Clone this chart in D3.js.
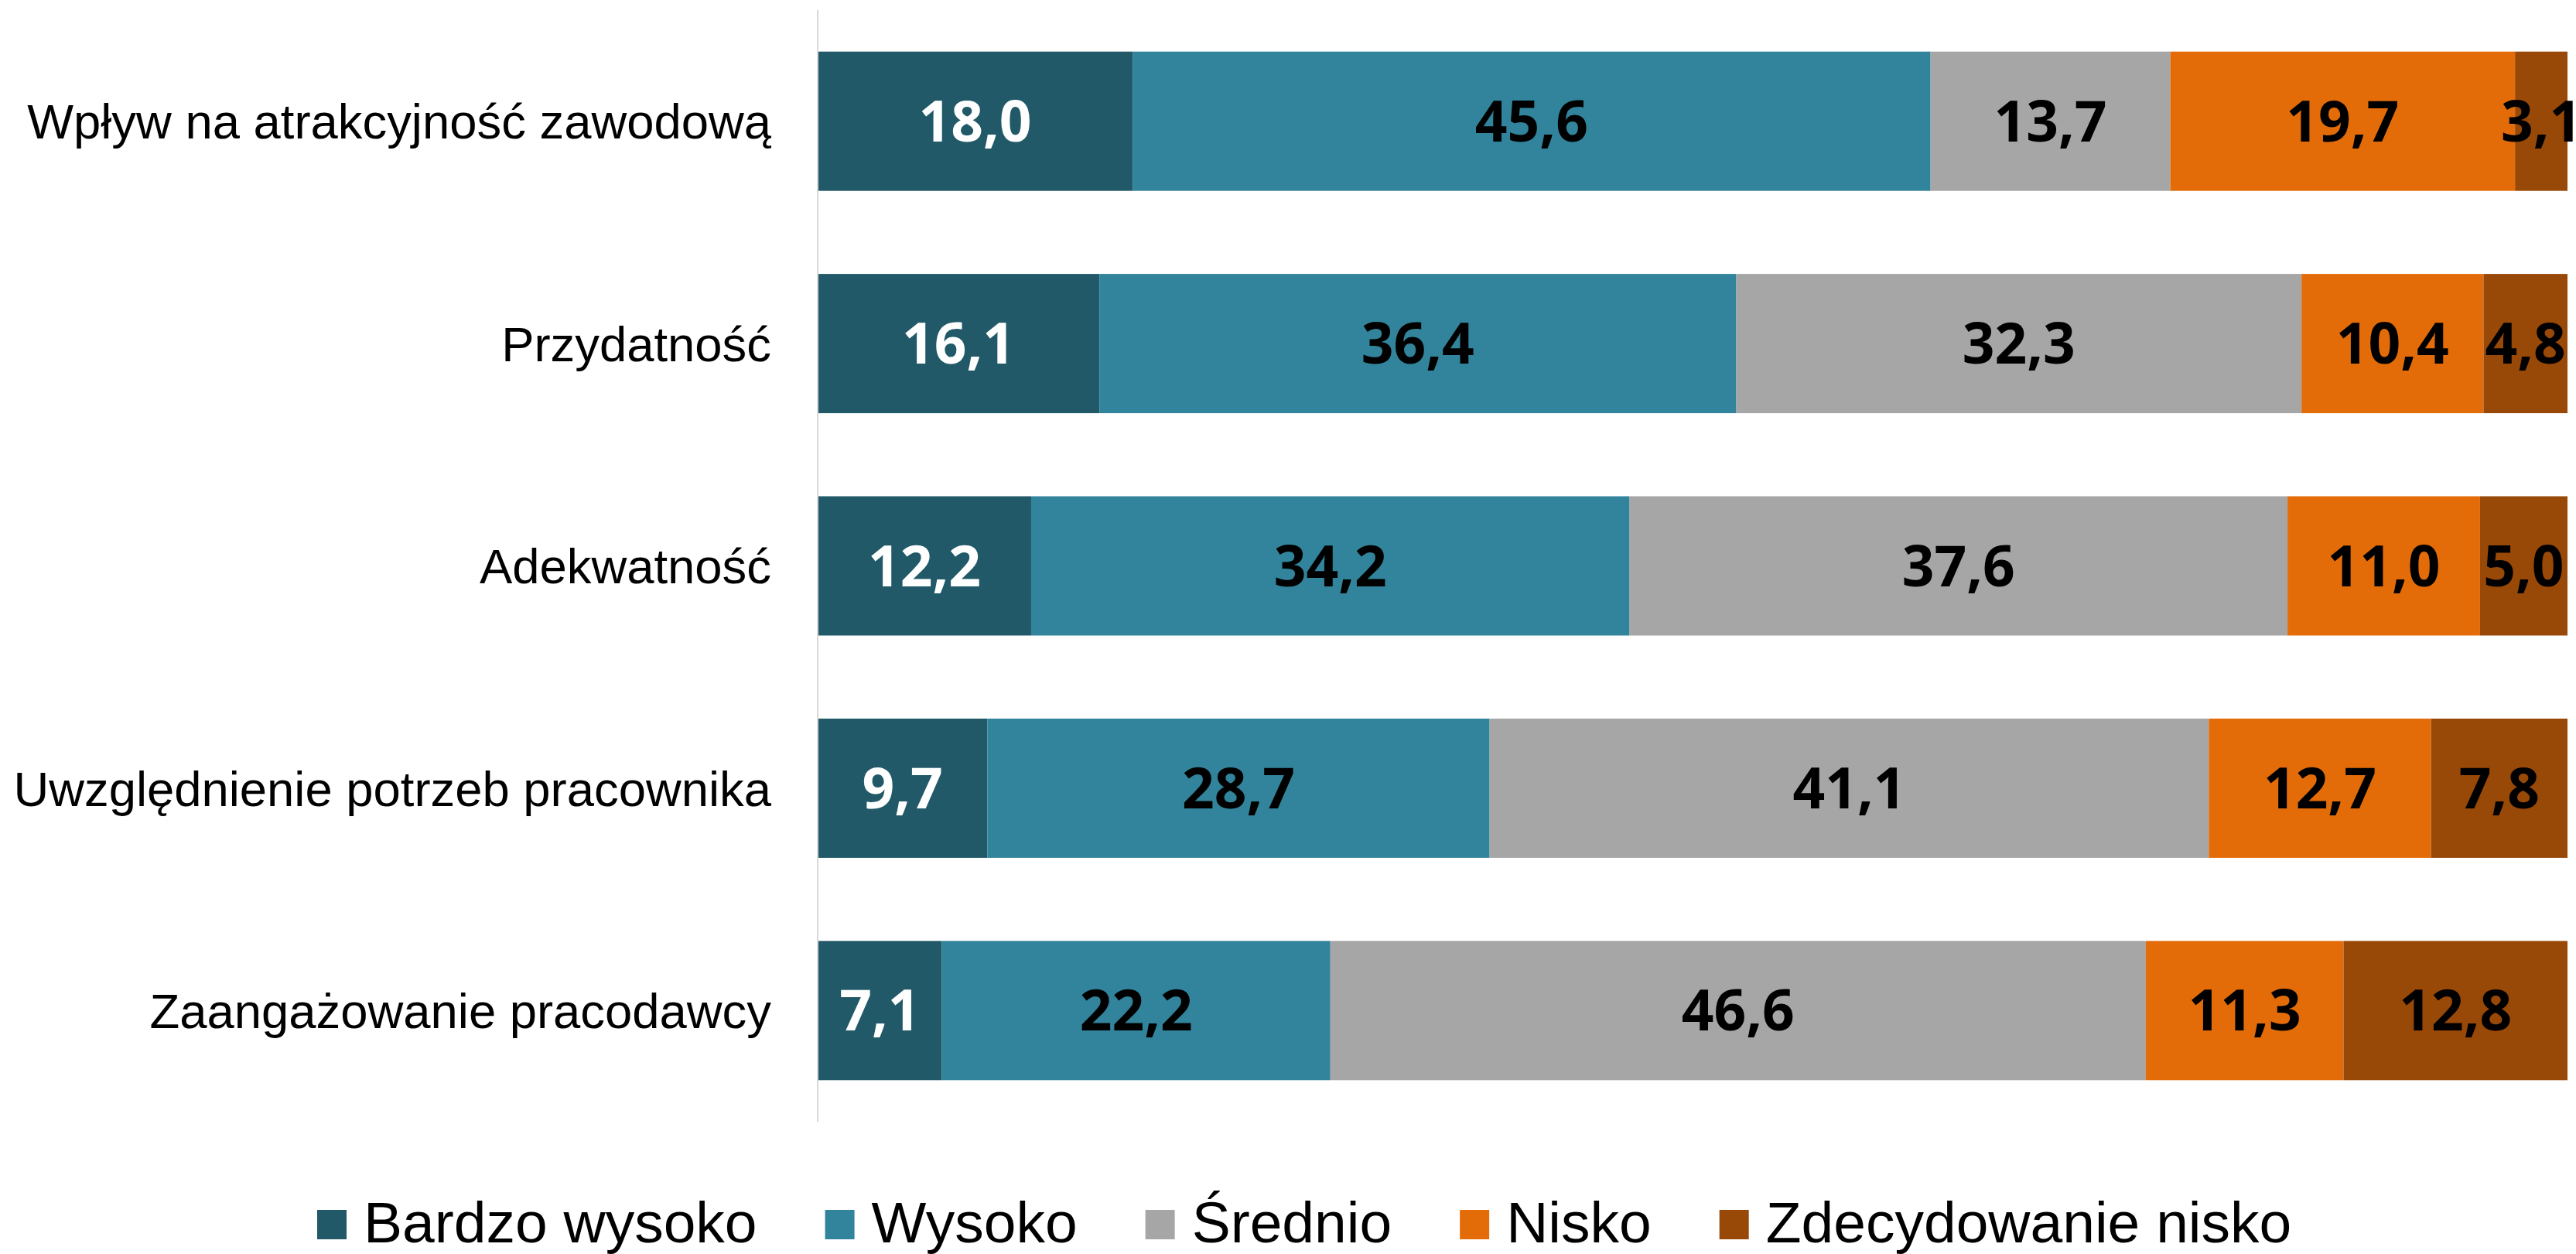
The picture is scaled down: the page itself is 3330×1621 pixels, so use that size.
<!DOCTYPE html>
<html>
<head>
<meta charset="utf-8">
<script src="https://cdn.jsdelivr.net/npm/d3@7/dist/d3.min.js"></script>
<style>
  html, body { margin: 0; padding: 0; background: #ffffff; }
  svg { display: block; }
</style>
</head>
<body>
<svg id="chart" width="3330" height="1621"></svg>
<script>
const categories = [
  "Wpływ na atrakcyjność zawodową",
  "Przydatność",
  "Adekwatność",
  "Uwzględnienie potrzeb pracownika",
  "Zaangażowanie pracodawcy"
];
const seriesNames = ["Bardzo wysoko", "Wysoko", "Średnio", "Nisko", "Zdecydowanie nisko"];
const bardzoWysoko = [18.0, 16.1, 12.2, 9.7, 7.1];
const wysoko = [45.6, 36.4, 34.2, 28.7, 22.2];
const srednio = [13.7, 32.3, 37.6, 41.1, 46.6];
const nisko = [19.7, 10.4, 11.0, 12.7, 11.3];
const zdecydowanieNisko = [3.1, 4.8, 5.0, 7.8, 12.8];
const seriesColors = ["#215968", "#31849B", "#A6A6A6", "#E36C09", "#984807"];
const labelColors = ["#ffffff", "#000000", "#000000", "#000000", "#000000"];

const seriesValues = [bardzoWysoko, wysoko, srednio, nisko, zdecydowanieNisko];

const svg = d3.select("#chart");
const plotLeft = 1057, plotRight = 3319, plotTop = 13, plotBottom = 1450;

const x = d3.scaleLinear().domain([0, 100]).range([plotLeft, plotRight]);
const y = d3.scaleBand().domain(categories).range([plotTop, plotBottom])
  .paddingInner(0.3737).paddingOuter(0.3737 / 2);

const rows = categories.map((c, i) => {
  const obj = { category: c };
  seriesNames.forEach((s, j) => obj[s] = seriesValues[j][i]);
  return obj;
});
const stacked = d3.stack().keys(seriesNames)(rows);

const fmt = v => v.toFixed(1).replace(".", ",");

const g = svg.append("g");
stacked.forEach((layer, j) => {
  g.append("g").selectAll("rect").data(layer).join("rect")
    .attr("x", d => x(d[0]))
    .attr("y", d => y(d.data.category))
    .attr("width", d => Math.max(0, Math.min(x(d[1]), plotRight) - x(d[0])))
    .attr("height", y.bandwidth())
    .attr("fill", seriesColors[j]);
});
stacked.forEach((layer, j) => {
  g.append("g").selectAll("text").data(layer).join("text")
    .attr("x", d => (x(d[0]) + Math.min(x(d[1]), plotRight)) / 2)
    .attr("y", d => y(d.data.category) + y.bandwidth() / 2)
    .attr("dy", "0.357em")
    .attr("text-anchor", "middle")
    .attr("font-family", "'Open Sans', sans-serif")
    .attr("font-weight", "bold")
    .attr("font-size", 73)
    .attr("fill", labelColors[j])
    .text(d => fmt(d.data[seriesNames[j]]));
});

const yAxis = d3.axisLeft(y).tickSize(0).tickPadding(60);
const ya = svg.append("g").attr("transform", `translate(${plotLeft},0)`).call(yAxis);
ya.select(".domain").attr("stroke", "#D9D9D9").attr("stroke-width", 2)
  .attr("d", `M0,${plotTop}V${plotBottom}`);
ya.selectAll(".tick text")
  .attr("font-family", "'Liberation Sans', Arial, sans-serif")
  .attr("font-size", 63.4)
  .attr("fill", "#000")
  .attr("dy", "0.358em");

const legend = svg.append("g").attr("transform", "translate(410,1583)");
let cx = 0;
seriesNames.forEach((s, j) => {
  const it = legend.append("g").attr("transform", `translate(${cx},0)`);
  it.append("rect").attr("x", 0).attr("y", -19).attr("width", 38).attr("height", 38)
    .attr("fill", seriesColors[j]);
  const t = it.append("text").attr("x", 60).attr("y", 0).attr("dy", "0.31em")
    .attr("font-family", "'Liberation Sans', Arial, sans-serif")
    .attr("font-size", 75)
    .attr("fill", "#000")
    .text(s);
  cx += 60 + t.node().getComputedTextLength() + 88;
});
</script>
</body>
</html>
